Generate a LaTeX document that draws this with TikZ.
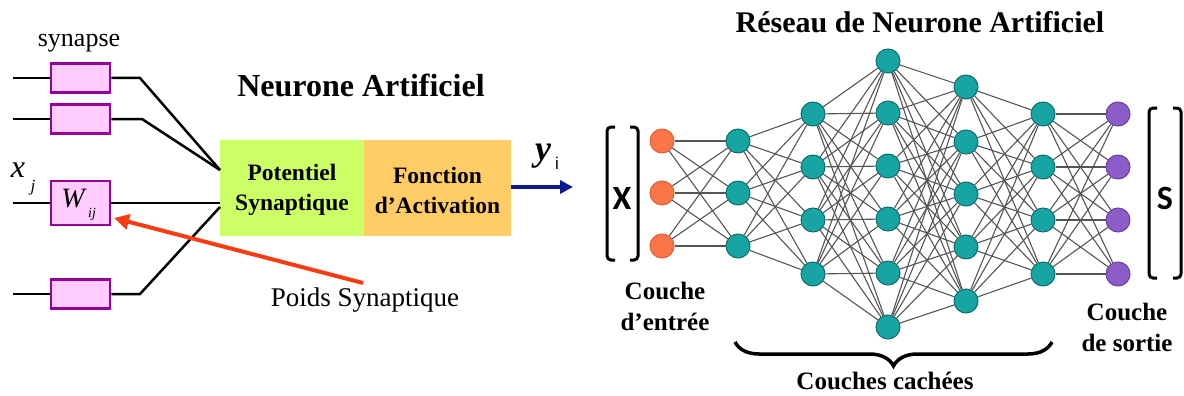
\documentclass[tikz,border=0pt]{standalone}
\usepackage{fontspec}
\setmainfont{Liberation Serif}
\setsansfont{Liberation Sans}
\newfontfamily\calib{Carlito}
\usetikzlibrary{arrows.meta,decorations.pathreplacing}
\definecolor{nteal}{RGB}{22,165,162}
\definecolor{nteald}{RGB}{14,110,108}
\definecolor{norange}{RGB}{250,118,72}
\definecolor{norangd}{RGB}{220,95,55}
\definecolor{npurple}{RGB}{140,92,200}
\definecolor{npurpled}{RGB}{105,65,160}
\definecolor{synfill}{RGB}{255,204,255}
\definecolor{synline}{RGB}{153,0,153}
\definecolor{potgreen}{RGB}{204,255,102}
\definecolor{actorange}{RGB}{255,204,102}
\definecolor{redarrow}{RGB}{250,60,20}
\definecolor{bluearrow}{RGB}{15,25,145}
\definecolor{edgegray}{RGB}{85,85,85}
\begin{document}
\begin{tikzpicture}[x=1pt,y=-1pt,
  neuron/.style={circle,minimum size=24pt,inner sep=0pt,line width=1pt},
  inp/.style={neuron,fill=norange,draw=norangd},
  hid/.style={neuron,fill=nteal,draw=nteald},
  outp/.style={neuron,fill=npurple,draw=npurpled},
  edge/.style={draw=edgegray,line width=1.1pt},
  syn/.style={draw=synline,fill=synfill,line width=2.5pt,inner sep=0pt,minimum width=59pt,minimum height=29pt},
  wire/.style={line width=2.5pt,black},
  lbl/.style={font=\fontsize{25}{31}\selectfont\bfseries,align=center},
  boxtxt/.style={font=\fontsize{23.5}{30}\selectfont\bfseries,align=center},
  brk/.style={line width=3pt,rounded corners=4pt,black},
  vec/.style={font=\calib\bfseries\fontsize{34}{36}\selectfont}
]
\useasboundingbox (0,0) rectangle (1184,396);

% ---------- left: artificial neuron ----------
\node[font=\fontsize{26}{30}\selectfont] (synlbl) at (79,43) {synapse};
\node[font=\fontsize{32}{36}\selectfont\bfseries] (t1) at (361,85) {Neurone Artificiel};

\node[syn] (s1) at (80.5,78) {};
\node[syn] (s2) at (80.5,119) {};
\node[syn,minimum height=44pt] (s3) at (80.5,203) {};
\node[syn] (s4) at (80.5,294) {};
\node[font=\fontsize{28}{30}\selectfont\itshape] (W) at (73,199) {W};
\node[font=\fontsize{14}{16}\selectfont\itshape] (ij) at (92,214) {ij};
\node[font=\fontsize{32}{34}\selectfont\itshape] (x) at (18,170) {x};
\node[font=\fontsize{17}{18}\selectfont\itshape] (j) at (33,188) {j};

\node[fill=potgreen,minimum width=144pt,minimum height=96pt,inner sep=0pt] (pot) at (292,188) {};
\node[fill=actorange,minimum width=147pt,minimum height=96pt,inner sep=0pt] (act) at (437.5,188) {};
\node[boxtxt] (pottxt) at (292,190) {Potentiel\\Synaptique};
\node[boxtxt] (acttxt) at (437.5,190) {Fonction\\d’Activation};

\coordinate (a1) at (13,78);  \coordinate (b1) at (140,78);  \coordinate (c1) at (220,170);
\coordinate (a2) at (13,119); \coordinate (b2) at (142,119); \coordinate (c2) at (220,170);
\coordinate (a3) at (13,203); \coordinate (c3) at (220,203);
\coordinate (a4) at (13,294); \coordinate (b4) at (140,294); \coordinate (c4) at (220,207);
\draw[wire] (a1) -- (s1.west);  \draw[wire] (s1.east) -- (b1) -- (c1);
\draw[wire] (a2) -- (s2.west);  \draw[wire] (s2.east) -- (b2) -- (c2);
\draw[wire] (a3) -- (s3.west);  \draw[wire] (s3.east) -- (c3);
\draw[wire] (a4) -- (s4.west);  \draw[wire] (s4.east) -- (b4) -- (c4);

\coordinate (rtail) at (363,283);
\coordinate (rtip) at (114,218);
\draw[redarrow,line width=4pt,-{Triangle[length=15pt,width=15pt]}] (rtail) -- (rtip);
\node[font=\fontsize{27}{30}\selectfont] (poids) at (365,300) {Poids Synaptique};

\coordinate (bstart) at (511,187);
\coordinate (bend) at (573,187);
\draw[bluearrow,line width=3.5pt,-{Triangle[length=13pt,width=13pt]}] (bstart) -- (bend);
\node[font=\fontsize{36}{38}\selectfont\bfseries\itshape] (yy) at (543,156) {y};
\node[font=\sffamily\fontsize{17}{18}\selectfont] (ii) at (557,163) {i};

% ---------- right: neural network ----------
\node[font=\fontsize{30}{34}\selectfont\bfseries] (t2) at (920,22) {Réseau de Neurone Artificiel};

\foreach \y [count=\i] in {141,193,246} \node[inp] (n0-\i) at (662,\y) {};
\foreach \y [count=\i] in {141,193,246} \node[hid] (n1-\i) at (738,\y) {};
\foreach \y [count=\i] in {114,167,220,274} \node[hid] (n2-\i) at (813,\y) {};
\foreach \y [count=\i] in {61,113,166,219,273,327} \node[hid] (n3-\i) at (888,\y) {};
\foreach \y [count=\i] in {87,142,194,247,301} \node[hid] (n4-\i) at (966,\y) {};
\foreach \y [count=\i] in {114,167,220,274} \node[hid] (n5-\i) at (1043,\y) {};
\foreach \y [count=\i] in {114,167,220,274} \node[outp] (n6-\i) at (1118,\y) {};

\foreach \a/\na/\b/\nb in {0/3/1/3,1/3/2/4,2/4/3/6,3/6/4/5,4/5/5/4,5/4/6/4}{
  \foreach \i in {1,...,\na}{
    \foreach \j in {1,...,\nb}{
      \draw[edge] (n\a-\i) -- (n\b-\j);
    }
  }
}

% brackets
\draw[brk] (615,127) -- (607,127) -- (607,260) -- (615,260);
\draw[brk] (630,127) -- (638,127) -- (638,260) -- (630,260);
\node[vec] (X) at (622,198) {X};
\draw[brk] (1157,108) -- (1149,108) -- (1149,278) -- (1157,278);
\draw[brk] (1173,108) -- (1181,108) -- (1181,278) -- (1173,278);
\node[vec] (S) at (1165,198) {S};

\node[lbl] (cin) at (665,306) {Couche\\d’entrée};
\node[lbl] (cout) at (1127,327) {Couche\\de sortie};

\coordinate (brR) at (1052,342);
\coordinate (brL) at (735,342);
\draw[line width=3.5pt,decorate,decoration={brace,amplitude=24pt}] (brR) -- (brL);
\node[lbl] (chid) at (885,381) {Couches cachées};
\end{tikzpicture}
\end{document}
